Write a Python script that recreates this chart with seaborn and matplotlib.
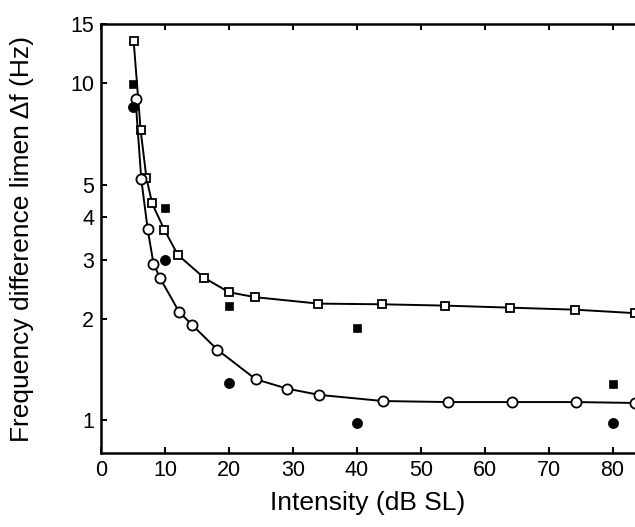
import pandas as pd
import seaborn as sns
import matplotlib.pyplot as plt
from matplotlib.ticker import FixedLocator, NullLocator

# Open squares (connected)
sq_x = [5.1, 6.2, 7.1, 8.0, 9.9, 12.0, 16.1, 20.0, 24.1, 34.0, 43.9, 53.8, 63.9, 74.1, 83.5]
sq_y = [13.4, 7.26, 5.24, 4.40, 3.68, 3.10, 2.65, 2.40, 2.32, 2.22, 2.21, 2.19, 2.16, 2.13, 2.08]

# Open circles (connected)
ci_x = [5.4, 6.3, 7.3, 8.2, 9.2, 12.2, 14.3, 18.2, 24.2, 29.1, 34.1, 44.1, 54.2, 64.3, 74.3, 83.5]
ci_y = [8.98, 5.19, 3.69, 2.92, 2.65, 2.10, 1.915, 1.62, 1.324, 1.242, 1.19, 1.141, 1.133, 1.133, 1.133, 1.126]

# Filled squares / circles (single points)
fsq_x = [5, 10, 20, 40, 80]
fsq_y = [9.95, 4.28, 2.19, 1.88, 1.285]
fci_x = [5, 10, 20, 40, 80]
fci_y = [8.5, 2.99, 1.29, 0.98, 0.98]

y_ticks = [1, 2, 3, 4, 5, 10, 15]
x_ticks = [0, 10, 20, 30, 40, 50, 60, 70, 80]

sns.set_style("ticks")
plt.rcParams["font.family"] = ["Liberation Sans", "DejaVu Sans"]
plt.rcParams["text.color"] = "black"
plt.rcParams["axes.labelcolor"] = "black"

fig = plt.figure(figsize=(6.35, 5.27), dpi=100)
ax = fig.add_axes([101 / 635, 1 - 453 / 527, 534 / 635, 429 / 527])

open_sq = pd.DataFrame({"x": sq_x, "y": sq_y})
open_ci = pd.DataFrame({"x": ci_x, "y": ci_y})
sns.lineplot(data=open_sq, x="x", y="y", ax=ax, color="black", lw=1.4,
             marker="s", markersize=6, markerfacecolor="white",
             markeredgecolor="black", markeredgewidth=1.3, zorder=3)
sns.lineplot(data=open_ci, x="x", y="y", ax=ax, color="black", lw=1.4,
             marker="o", markersize=7.3, markerfacecolor="white",
             markeredgecolor="black", markeredgewidth=1.3, zorder=3)
sns.scatterplot(x=fsq_x, y=fsq_y, ax=ax, marker="s", s=36, color="black",
                edgecolor="black", zorder=4)
sns.scatterplot(x=fci_x, y=fci_y, ax=ax, marker="o", s=52, color="black",
                edgecolor="black", zorder=4)

ax.set_yscale("log")
ax.set_ylim(0.8, 15)
ax.set_xlim(0, 83.5)
ax.yaxis.set_major_locator(FixedLocator(y_ticks))
ax.yaxis.set_minor_locator(NullLocator())
ax.set_yticklabels([str(t) for t in y_ticks])
ax.set_xticks(x_ticks)

for side in ["left", "bottom", "top"]:
    ax.spines[side].set_linewidth(1.8)
    ax.spines[side].set_color("black")
ax.spines["right"].set_visible(False)
ax.tick_params(direction="in", length=4, width=1.4, labelsize=15.5,
               top=True, right=False, pad=5, colors="black",
               labelcolor="black")

ax.set_xlabel("Intensity (dB SL)", fontsize=19, labelpad=7)
ax.set_ylabel("Frequency difference limen Δf (Hz)", fontsize=19, labelpad=26)

fig.savefig("out.png", dpi=100)
